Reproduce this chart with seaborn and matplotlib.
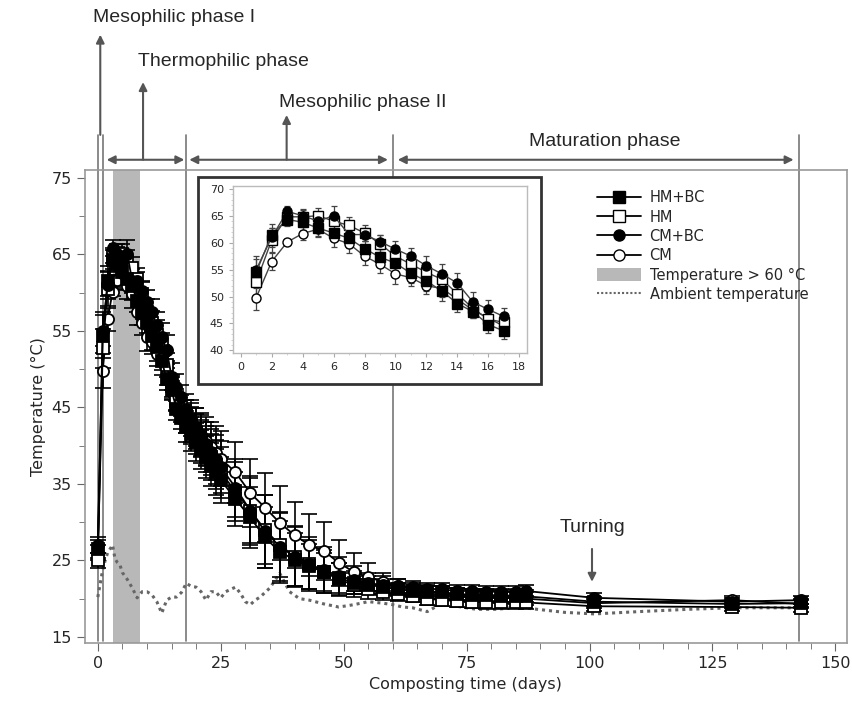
import numpy as np
import matplotlib
matplotlib.use("Agg")
import matplotlib.pyplot as plt
from matplotlib.lines import Line2D
from matplotlib.patches import Patch, Rectangle
import seaborn as sns

# composting days with measurements
days = [0, 1, 2, 3, 4, 5, 6, 7, 8, 9, 10, 11, 12, 13, 14, 15, 16, 17, 18, 19, 20,
        21, 22, 23, 24, 25, 28, 31, 34, 37, 40, 43, 46, 49, 52, 55, 58, 61, 64, 67,
        70, 73, 76, 79, 82, 85, 87, 101, 129, 143]

hm_bc = [26.5, 54.5, 61.5, 64.3, 63.8, 62.7, 61.8, 60.8, 58.9, 57.3, 56.2, 54.3, 52.9,
         51.0, 48.7, 47.2, 44.8, 43.6, 42.5, 41.5, 40.5, 39.5, 38.5, 37.5, 36.5, 35.5,
         33.0, 30.6, 28.0, 26.1, 25.1, 24.2, 23.5, 22.7, 22.1, 21.8, 21.5, 21.2, 21.0,
         20.8, 20.8, 20.6, 20.5, 20.5, 20.4, 20.4, 20.3, 19.6, 19.3, 19.4]
hm = [25.0, 52.7, 60.5, 64.8, 64.8, 65.0, 64.0, 63.2, 61.8, 59.8, 57.5, 56.0, 54.5,
      53.2, 50.5, 47.8, 45.8, 45.2, 43.8, 42.6, 41.5, 40.5, 39.5, 38.5, 37.5, 36.5,
      34.0, 31.5, 29.0, 27.0, 25.5, 24.5, 23.5, 22.5, 21.8, 21.2, 20.8, 20.6, 20.4,
      20.0, 19.8, 19.7, 19.6, 19.5, 19.5, 19.5, 19.5, 19.0, 18.9, 18.8]
cm_bc = [27.0, 55.0, 61.0, 65.8, 65.0, 64.0, 65.0, 61.5, 61.5, 60.2, 58.8, 57.5, 55.7,
         54.2, 52.5, 49.0, 47.6, 46.3, 44.8, 43.6, 42.4, 41.3, 40.2, 39.2, 38.2, 37.2,
         34.5, 31.5, 28.8, 26.8, 25.5, 24.5, 23.7, 23.0, 22.4, 22.0, 21.8, 21.6, 21.5,
         21.3, 21.2, 21.0, 21.0, 20.9, 20.9, 20.9, 21.0, 20.1, 19.6, 19.8]
cm = [26.0, 49.8, 56.5, 60.1, 61.7, 62.5, 60.8, 59.8, 57.5, 56.0, 54.2, 53.5, 52.0,
      51.5, 49.5, 47.5, 46.0, 44.5, 43.8, 43.0, 42.2, 41.4, 40.6, 39.8, 39.0, 38.3,
      36.5, 33.8, 31.9, 29.9, 28.3, 27.0, 26.2, 24.7, 23.5, 22.8, 22.2, 21.6, 21.3,
      21.0, 20.8, 20.6, 20.4, 20.3, 20.2, 20.1, 20.0, 19.4, 19.8, 19.3]

# standard deviations
hm_bc_err = [1.2, 3.0, 2.0, 1.2, 1.5, 1.5, 1.5, 1.8, 1.5, 1.5, 1.5, 1.8, 1.8, 1.8, 1.5,
             1.2, 1.5, 1.5, 2.0, 2.2, 2.5, 2.5, 2.8, 2.8, 3.0, 3.0, 3.5, 4.0, 4.0, 4.0,
             3.5, 3.0, 2.5, 2.0, 1.5, 1.2, 1.0, 0.8, 0.8, 0.8, 0.8, 0.8, 0.8, 0.8, 0.8,
             0.8, 0.8, 0.6, 0.5, 0.5]
hm_err = [1.0, 2.5, 2.2, 1.0, 1.2, 1.4, 1.6, 1.5, 1.4, 1.6, 1.7, 1.6, 1.9, 1.5, 1.6,
          1.4, 1.3, 1.4, 2.2, 2.4, 2.6, 2.8, 3.0, 3.0, 3.2, 3.3, 3.8, 4.2, 4.5, 4.2,
          3.8, 3.2, 2.8, 2.2, 1.6, 1.3, 1.0, 0.9, 0.8, 0.8, 0.8, 0.8, 0.8, 0.8, 0.8,
          0.8, 0.8, 0.6, 0.5, 0.5]
cm_bc_err = [1.0, 2.0, 1.8, 1.0, 1.3, 1.2, 1.8, 1.6, 1.2, 1.3, 1.5, 1.6, 1.8, 1.8, 1.9,
             1.8, 1.8, 1.6, 2.0, 2.3, 2.5, 2.7, 2.9, 3.0, 3.2, 3.4, 3.8, 4.5, 4.8, 4.5,
             4.0, 3.5, 3.0, 2.5, 1.8, 1.4, 1.1, 0.9, 0.8, 0.8, 0.8, 0.8, 0.8, 0.8, 0.8,
             0.8, 0.8, 0.6, 0.5, 0.5]
cm_err = [1.0, 2.3, 1.5, 0.6, 1.2, 1.5, 1.6, 1.8, 1.7, 1.6, 1.8, 1.5, 1.6, 1.6, 1.6,
          1.4, 1.4, 1.4, 2.2, 2.5, 2.7, 2.9, 3.1, 3.3, 3.5, 3.6, 4.0, 4.5, 4.5, 4.8,
          4.3, 4.0, 3.8, 3.0, 2.5, 1.8, 1.2, 1.0, 0.8, 0.8, 0.8, 0.8, 0.8, 0.8, 0.8,
          0.8, 0.8, 0.6, 0.5, 0.5]

# ambient temperature
amb_days = [0, 0.5, 1, 1.5, 2, 3, 3.5, 4, 4.5, 5, 6, 7, 8, 9, 10, 11, 12, 13, 14, 15,
            16, 17, 18, 19, 20, 21, 22, 23, 24, 25, 26, 28, 29, 30, 31, 32, 33, 35, 37,
            39, 41, 43, 46, 49, 52, 55, 58, 60, 62, 64, 67, 70, 73, 77, 81, 86, 88, 95,
            101, 110, 120, 129, 136, 143]
amb_temp = [20.2, 22.0, 23.8, 25.0, 26.0, 27.0, 25.2, 24.7, 24.4, 23.4, 22.5, 21.4, 20.1,
            20.9, 20.9, 20.5, 19.6, 18.1, 19.8, 20.2, 20.2, 20.8, 22.0, 21.6, 21.5, 20.9,
            19.8, 20.9, 20.9, 20.1, 20.9, 21.5, 20.7, 19.6, 19.2, 19.8, 20.2, 21.4, 23.3,
            20.9, 20.0, 19.8, 19.3, 18.9, 19.2, 19.6, 19.4, 19.2, 18.9, 18.8, 18.3, 19.4,
            19.0, 18.6, 18.6, 18.9, 18.7, 18.2, 18.0, 18.3, 18.6, 18.8, 18.8, 18.8]

hot_start, hot_end = 3, 8.5
phase_bounds = [0, 1, 18, 60, 142.5]

series = [
    ("HM+BC", hm_bc, hm_bc_err, "s", "black"),
    ("HM", hm, hm_err, "s", "white"),
    ("CM+BC", cm_bc, cm_bc_err, "o", "black"),
    ("CM", cm, cm_err, "o", "white"),
]

sns.set_style("ticks")
plt.rcParams["font.family"] = ["DejaVu Sans"]
narrow = ["Liberation Sans", "DejaVu Sans"]

fig = plt.figure(figsize=(8.52, 7.09), dpi=100)
ax = fig.add_axes([0.0998, 0.0931, 0.894, 0.667])
ax.set_zorder(0)

# thermophilic window and phase separators
ax.axvspan(hot_start, hot_end, color="#b8b8b8", lw=0, zorder=0)
for b in phase_bounds:
    ax.plot([b, b], [14.5, 80.6], color="#777777", lw=1.2, clip_on=False, zorder=1)

sns.lineplot(x=amb_days, y=amb_temp, ax=ax, color="#666666", lw=2.2, linestyle=(0, (1, 1.3)),
             legend=False, zorder=2)

draw_order = [3, 1, 2, 0]
for i in draw_order:
    name, vals, err, mk, face = series[i]
    ax.errorbar(days, vals, yerr=err, fmt="none", ecolor="black", elinewidth=1.2,
                capsize=6, capthick=1.2, zorder=3)
    sns.lineplot(x=days, y=vals, ax=ax, color="black", lw=1.3, marker=mk, markersize=8,
                 markerfacecolor=face, markeredgecolor="black", markeredgewidth=1.3,
                 legend=False, zorder=4)

ax.set_xlim(-2.6, 152.3)
ax.set_ylim(14.2, 76)
ax.set_xticks([0, 25, 50, 75, 100, 125, 150])
ax.set_xticks(np.arange(5, 150, 5), minor=True)
ax.set_yticks([15, 25, 35, 45, 55, 65, 75])
ax.set_yticks([20, 30, 40, 50, 60, 70], minor=True)
ax.tick_params(axis="both", which="major", labelsize=11.5, length=6, color="#666666")
ax.tick_params(axis="both", which="minor", length=4, color="#666666")
for sp in ax.spines.values():
    sp.set_color("#999999")
    sp.set_linewidth(1.2)
ax.set_xlabel("Composting time (days)", fontsize=11.5)
ax.set_ylabel("Temperature (°C)", fontsize=11.5)

# phase annotations above the plot
arrow_kw = dict(arrowstyle="<|-|>", color="#555555", lw=1.5, mutation_scale=12,
                shrinkA=0, shrinkB=0)
up_kw = dict(arrowstyle="-|>", color="#555555", lw=1.5, mutation_scale=12,
             shrinkA=0, shrinkB=0)
for x0, x1 in [(1.8, 17.6), (18.6, 59.0), (61.0, 141.5)]:
    ax.annotate("", xy=(x1, 77.35), xytext=(x0, 77.35), arrowprops=arrow_kw,
                annotation_clip=False)
for x, ytop in [(0.5, 93.7), (9.2, 87.5), (38.4, 83.2)]:
    y0 = 80.6 if x < 1 else 77.35
    ax.annotate("", xy=(x, ytop), xytext=(x, y0), arrowprops=up_kw, annotation_clip=False)

ax.text(-1.0, 96.0, "Mesophilic phase I", fontsize=14, family=narrow, va="center", ha="left")
ax.text(8.1, 90.2, "Thermophilic phase", fontsize=14, family=narrow, va="center", ha="left")
ax.text(36.8, 84.8, "Mesophilic phase II", fontsize=14, family=narrow, va="center", ha="left")
ax.text(103, 79.7, "Maturation phase", fontsize=14, family=narrow, va="center", ha="center")

ax.annotate("Turning", xy=(100.5, 22.2), xytext=(100.5, 29.3), fontsize=14, family=narrow,
            ha="center", va="center",
            arrowprops=dict(arrowstyle="-|>", color="#555555", lw=1.5, mutation_scale=12,
                            shrinkA=7, shrinkB=0))

# legend
handles = [
    Line2D([], [], color="black", marker="s", mfc="black", mec="black", ms=8, lw=1.3),
    Line2D([], [], color="black", marker="s", mfc="white", mec="black", ms=8, lw=1.3),
    Line2D([], [], color="black", marker="o", mfc="black", mec="black", ms=8, lw=1.3),
    Line2D([], [], color="black", marker="o", mfc="white", mec="black", ms=8, lw=1.3),
    Patch(facecolor="#b8b8b8", edgecolor="none"),
    Line2D([], [], color="#666666", lw=1.5, linestyle=(0, (1, 1))),
]
labels = ["HM+BC", "HM", "CM+BC", "CM", "Temperature > 60 °C", "Ambient temperature"]
ax.legend(handles, labels, loc="upper left", bbox_to_anchor=(0.655, 0.985), frameon=False,
          fontsize=10.5, handlelength=3.0, handleheight=1.0, labelspacing=0.3,
          handletextpad=0.6)

# inset frame and inset axes (first 17 days)
fig.patches.append(Rectangle((0.232, 0.458), 0.403, 0.292, transform=fig.transFigure,
                             facecolor="white", edgecolor="#333333", lw=2, zorder=1))
ins = fig.add_axes([0.2735, 0.502, 0.345, 0.2355])
ins.set_zorder(2)
for i in draw_order:
    name, vals, err, mk, face = series[i]
    ins.errorbar(days[1:18], vals[1:18], yerr=err[1:18], fmt="none", ecolor="#444444",
                 elinewidth=0.9, capsize=2.5, capthick=0.9, zorder=3)
    sns.lineplot(x=days[1:18], y=vals[1:18], ax=ins, color="#444444", lw=1, marker=mk,
                 markersize=6.5, markerfacecolor=face, markeredgecolor="black",
                 markeredgewidth=1, legend=False, zorder=4)
ins.set_xlim(-0.5, 18.5)
ins.set_ylim(39.5, 70.5)
ins.set_xticks(np.arange(0, 19, 2))
ins.set_xticks(np.arange(1, 18, 2), minor=True)
ins.set_yticks(np.arange(40, 71, 5))
ins.set_yticks(np.arange(41, 70, 1), minor=True)
ins.tick_params(axis="both", which="major", labelsize=8, length=3, color="#aaaaaa")
ins.tick_params(axis="both", which="minor", length=1.5, color="#cccccc")
for sp in ins.spines.values():
    sp.set_color("#bbbbbb")
    sp.set_linewidth(1)

fig.savefig("out.png", dpi=100)
